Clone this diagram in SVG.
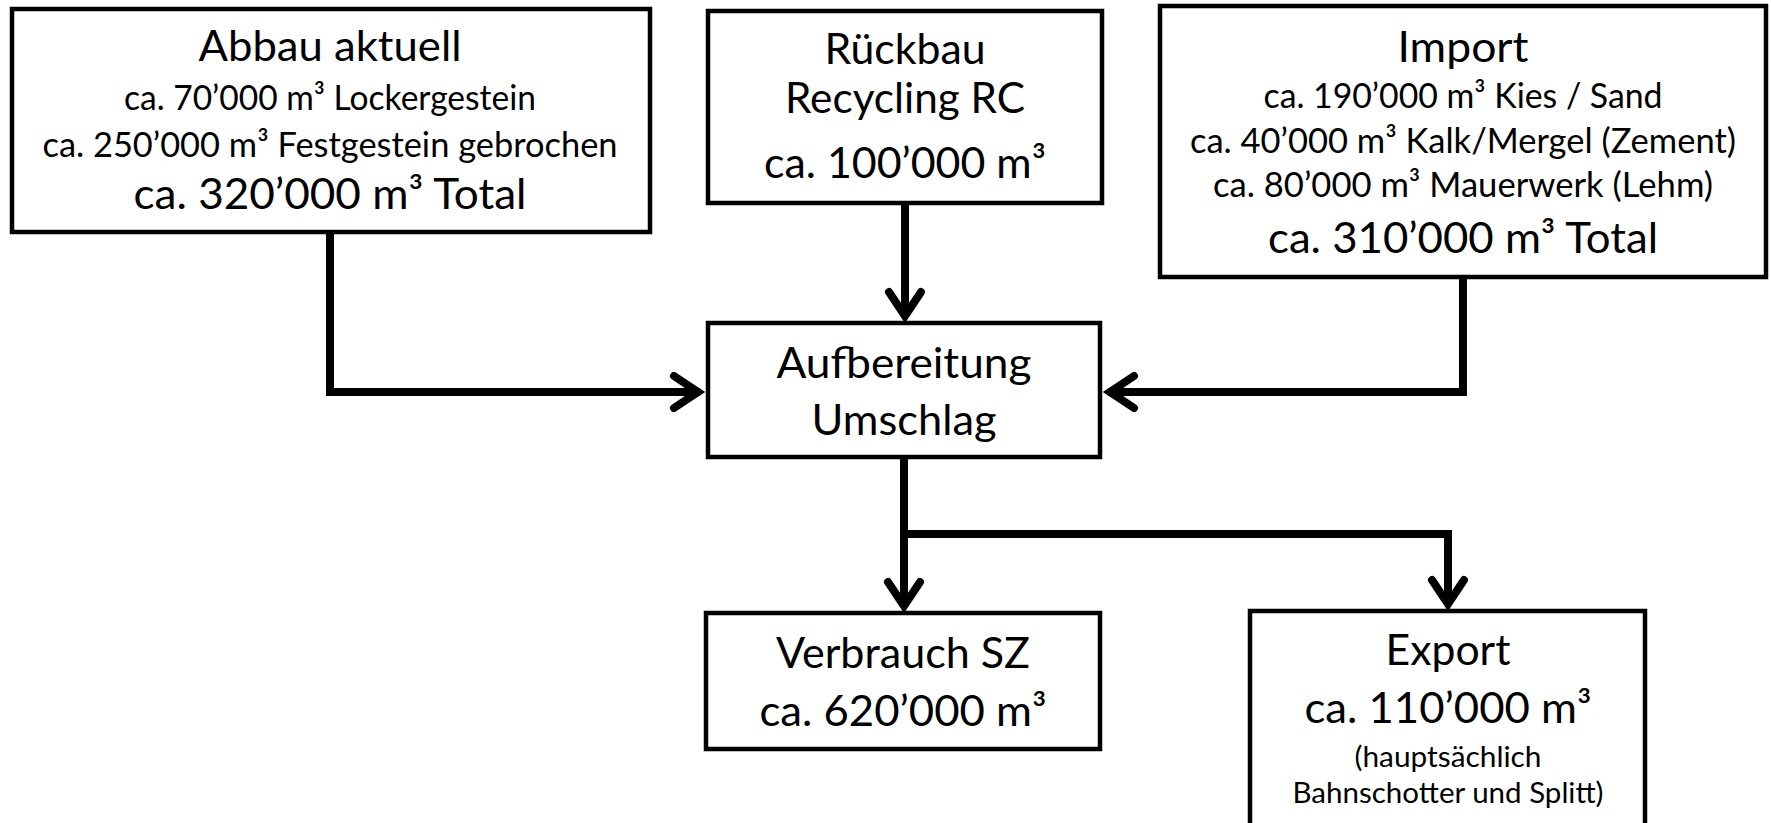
<svg xmlns="http://www.w3.org/2000/svg" width="1771" height="823" viewBox="0 0 1771 823">
<style>
.box{fill:#fff;stroke:#000;stroke-width:4.5}
text{font-family:Lato,"Open Sans","Liberation Sans",sans-serif;fill:#000;text-anchor:middle}
.big{font-size:43px}
.mid{font-size:34px}
.sm{font-size:29px}
.ln{fill:none;stroke:#000;stroke-width:8;stroke-linejoin:miter;stroke-linecap:butt}
.ah{fill:none;stroke:#000;stroke-width:8;stroke-linejoin:miter;stroke-linecap:round}
</style>
<rect width="1771" height="823" fill="#fff"/>
<g id="connectors">
<path class="ln" d="M330 232 V392 H700"/>
<path class="ah" d="M674 376 L698 392 L674 408"/>
<path class="ln" d="M905 203 V316"/>
<path class="ah" d="M889 292 L905 316 L921 292"/>
<path class="ln" d="M1463 277 V392 H1108"/>
<path class="ah" d="M1134 376 L1110 392 L1134 408"/>
<path class="ln" d="M904 457 V606 M904 534 H1448 V604"/>
<path class="ah" d="M888 582 L904 606 L920 582"/>
<path class="ah" d="M1432 580 L1448 604 L1464 580"/>
</g>
<g id="abbau">
<rect class="box" x="12" y="9" width="638" height="223"/>
<text class="big" x="330" y="61" textLength="263" lengthAdjust="spacingAndGlyphs">Abbau aktuell</text>
<text class="mid" x="330" y="110" textLength="412" lengthAdjust="spacingAndGlyphs">ca. 70’000 m³ Lockergestein</text>
<text class="mid" x="330" y="157" textLength="575" lengthAdjust="spacingAndGlyphs">ca. 250’000 m³ Festgestein gebrochen</text>
<text class="big" x="330" y="209" textLength="393" lengthAdjust="spacingAndGlyphs">ca. 320’000 m³ Total</text>
</g>
<g id="rueckbau">
<rect class="box" x="708" y="11" width="394" height="192"/>
<text class="big" x="905" y="64" textLength="161" lengthAdjust="spacingAndGlyphs">Rückbau</text>
<text class="big" x="905" y="113" textLength="240" lengthAdjust="spacingAndGlyphs">Recycling RC</text>
<text class="big" x="905" y="178" textLength="282" lengthAdjust="spacingAndGlyphs">ca. 100’000 m³</text>
</g>
<g id="import">
<rect class="box" x="1160" y="6" width="606" height="271"/>
<text class="big" x="1463" y="62" textLength="131" lengthAdjust="spacingAndGlyphs">Import</text>
<text class="mid" x="1463" y="108" textLength="399" lengthAdjust="spacingAndGlyphs">ca. 190’000 m³ Kies / Sand</text>
<text class="mid" x="1463" y="153" textLength="546" lengthAdjust="spacingAndGlyphs">ca. 40’000 m³ Kalk/Mergel (Zement)</text>
<text class="mid" x="1463" y="197" textLength="500" lengthAdjust="spacingAndGlyphs">ca. 80’000 m³ Mauerwerk (Lehm)</text>
<text class="big" x="1463" y="253" textLength="390" lengthAdjust="spacingAndGlyphs">ca. 310’000 m³ Total</text>
</g>
<g id="aufbereitung">
<rect class="box" x="708" y="323" width="392" height="134"/>
<text class="big" x="904" y="378" textLength="255" lengthAdjust="spacingAndGlyphs">Aufbereitung</text>
<text class="big" x="904" y="435" textLength="185" lengthAdjust="spacingAndGlyphs">Umschlag</text>
</g>
<g id="verbrauch">
<rect class="box" x="706" y="613" width="394" height="136"/>
<text class="big" x="903" y="668" textLength="254" lengthAdjust="spacingAndGlyphs">Verbrauch SZ</text>
<text class="big" x="903" y="726" textLength="287" lengthAdjust="spacingAndGlyphs">ca. 620’000 m³</text>
</g>
<g id="export">
<rect class="box" x="1250" y="611" width="395" height="230"/>
<text class="big" x="1448" y="665" textLength="125" lengthAdjust="spacingAndGlyphs">Export</text>
<text class="big" x="1448" y="723" textLength="287" lengthAdjust="spacingAndGlyphs">ca. 110’000 m³</text>
<text class="sm" x="1448" y="767" textLength="187" lengthAdjust="spacingAndGlyphs">(hauptsächlich</text>
<text class="sm" x="1448" y="803" textLength="311" lengthAdjust="spacingAndGlyphs">Bahnschotter und Splitt)</text>
</g>
</svg>
